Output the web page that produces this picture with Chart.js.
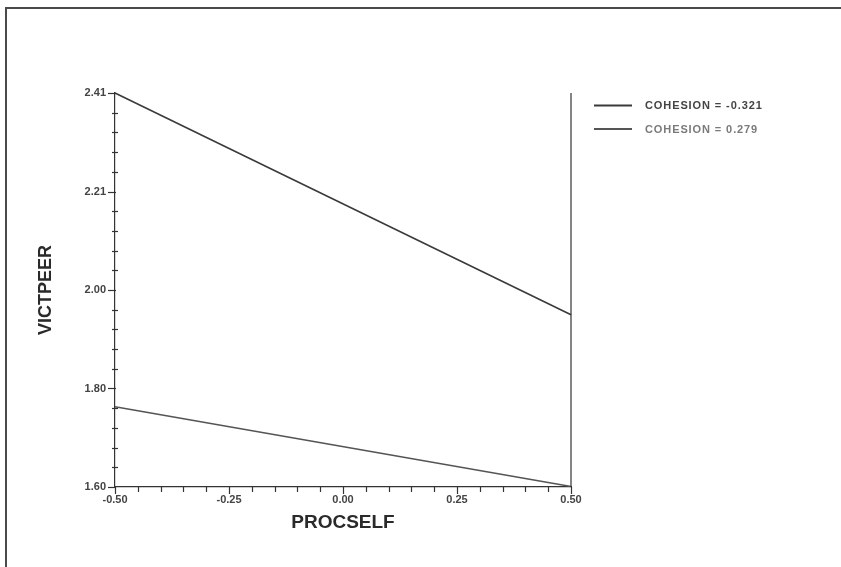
<!DOCTYPE html>
<html>
<head>
<meta charset="utf-8">
<script src="https://cdn.jsdelivr.net/npm/chart.js@4/dist/chart.umd.min.js"></script>
<style>
  html, body { margin: 0; padding: 0; background: #ffffff; }
  #wrap { position: relative; width: 841px; height: 567px; }
</style>
</head>
<body>
<div id="wrap"><canvas id="c" width="841" height="567"></canvas></div>
<script>
// ---- data ----
const xValues = [-0.50, 0.50];                       // PROCSELF
const seriesNames = ['COHESION = -0.321', 'COHESION = 0.279'];
const seriesLow = [2.41, 1.954];                      // COHESION = -0.321
const seriesHigh = [1.765, 1.601];                    // COHESION = 0.279
const xTickValues = [-0.50, -0.25, 0.00, 0.25, 0.50];
const xTickLabels = ['-0.50', '-0.25', '0.00', '0.25', '0.50'];
const yMin = 1.60, yMax = 2.41;
const yTickLabels = ['1.60', '1.80', '2.00', '2.21', '2.41'];

const lineColors = ['#3a3a3a', '#555555'];
const legendTextColors = ['#444444', '#7a7a7a'];
const FONT = "'Liberation Sans', Arial, sans-serif";

const yTickValues = yTickLabels.map((_, i) => yMin + i * (yMax - yMin) / (yTickLabels.length - 1));

const decor = {
  id: 'decor',
  beforeDraw(chart) {
    const ctx = chart.ctx;
    ctx.save();
    ctx.fillStyle = '#ffffff';
    ctx.fillRect(0, 0, chart.width, chart.height);
    // outer frame (top and left edges visible)
    ctx.strokeStyle = '#4a4a4a';
    ctx.lineWidth = 2;
    ctx.beginPath();
    ctx.moveTo(6, chart.height + 5);
    ctx.lineTo(6, 8);
    ctx.lineTo(chart.width + 5, 8);
    ctx.stroke();
    ctx.restore();
  },
  afterDraw(chart) {
    const ctx = chart.ctx;
    const xs = chart.scales.x, ys = chart.scales.y;
    const a = chart.chartArea;
    ctx.save();
    ctx.strokeStyle = '#333333';
    ctx.lineWidth = 1.2;
    // right frame line
    ctx.beginPath();
    ctx.moveTo(xs.getPixelForValue(0.5), a.top);
    ctx.lineTo(xs.getPixelForValue(0.5), a.bottom);
    ctx.stroke();
    // x ticks: major every 0.25, minor every 0.05
    for (let i = 0; i <= 20; i++) {
      const v = -0.5 + i * 0.05;
      const px = Math.round(xs.getPixelForValue(v)) + 0.5;
      const major = i % 5 === 0;
      ctx.beginPath();
      ctx.moveTo(px, a.bottom);
      ctx.lineTo(px, a.bottom + (major ? 7 : 5));
      ctx.stroke();
    }
    // y ticks: major at label positions, 4 minor between
    for (let i = 0; i <= 20; i++) {
      const v = yMin + i * (yMax - yMin) / 20;
      const py = Math.round(ys.getPixelForValue(v)) + 0.5;
      const major = i % 5 === 0;
      ctx.beginPath();
      if (major) { ctx.moveTo(a.left - 7, py); ctx.lineTo(a.left + 1, py); }
      else { ctx.moveTo(a.left - 3, py); ctx.lineTo(a.left + 3, py); }
      ctx.stroke();
    }
    // legend
    const legendY = [105.5, 129];
    chart.data.datasets.forEach((ds, i) => {
      ctx.strokeStyle = ds.borderColor;
      ctx.lineWidth = 1.8;
      ctx.beginPath();
      ctx.moveTo(594, legendY[i]);
      ctx.lineTo(632, legendY[i]);
      ctx.stroke();
      ctx.fillStyle = legendTextColors[i];
      ctx.font = 'bold 11px ' + FONT;
      ctx.letterSpacing = '0.9px';
      ctx.textBaseline = 'middle';
      ctx.textAlign = 'left';
      ctx.fillText(ds.label, 645, legendY[i] + 0.5);
    });
    ctx.restore();
  }
};

new Chart(document.getElementById('c'), {
  type: 'line',
  data: {
    datasets: [
      { label: seriesNames[0], data: xValues.map((x, i) => ({ x, y: seriesLow[i] })),
        borderColor: lineColors[0], borderWidth: 1.6, pointRadius: 0, tension: 0, clip: false },
      { label: seriesNames[1], data: xValues.map((x, i) => ({ x, y: seriesHigh[i] })),
        borderColor: lineColors[1], borderWidth: 1.6, pointRadius: 0, tension: 0, clip: false }
    ]
  },
  options: {
    responsive: false,
    animation: false,
    events: [],
    layout: { padding: { top: 93, right: 270, left: 0, bottom: 0 } },
    plugins: { legend: { display: false }, tooltip: { enabled: false }, title: { display: false } },
    scales: {
      x: {
        type: 'linear', min: -0.5, max: 0.5,
        afterFit(s) { s.height = 80; },
        afterBuildTicks(s) { s.ticks = xTickValues.map(v => ({ value: v })); },
        grid: { display: false, drawTicks: false },
        border: { display: true, color: '#333333', width: 1.2 },
        ticks: {
          padding: 6, color: '#444444', maxRotation: 0, autoSkip: false,
          font: { family: FONT, size: 11, weight: 'bold' },
          callback(v, i) { return xTickLabels[i]; }
        },
        title: {
          display: true, text: 'PROCSELF', color: '#2a2a2a',
          font: { family: FONT, size: 19, weight: 'bold' },
          padding: { top: 0, bottom: 33 }
        }
      },
      y: {
        type: 'linear', min: yMin, max: yMax,
        afterFit(s) { s.width = 115; },
        afterBuildTicks(s) { s.ticks = yTickValues.map(v => ({ value: v })); },
        grid: { display: false, drawTicks: false },
        border: { display: true, color: '#333333', width: 1.2 },
        ticks: {
          padding: 9, color: '#444444', autoSkip: false,
          font: { family: FONT, size: 11, weight: 'bold' },
          callback(v, i) { return yTickLabels[i]; }
        },
        title: {
          display: true, text: 'VICTPEER', color: '#2a2a2a',
          font: { family: FONT, size: 18, weight: 'bold' },
          padding: { top: 35, bottom: 0 }
        }
      }
    }
  },
  plugins: [decor]
});
</script>
</body>
</html>
